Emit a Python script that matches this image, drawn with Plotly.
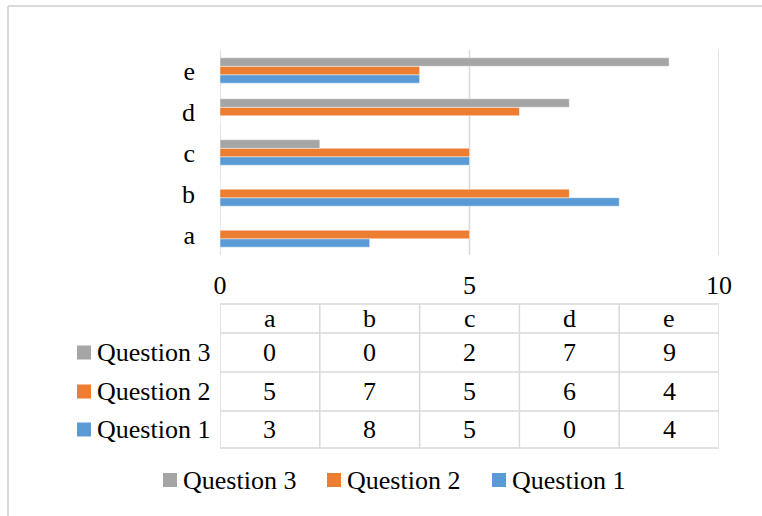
import plotly.graph_objects as go

categories = ["a", "b", "c", "d", "e"]
series_names = ["Question 1", "Question 2", "Question 3"]
q1 = [3, 8, 5, 0, 4]
q2 = [5, 7, 5, 6, 4]
q3 = [0, 0, 2, 7, 9]
colors = ["#5B9BD5", "#ED7D31", "#A5A5A5"]
x_ticks = [0, 5, 10]

FONT = "Liberation Serif"
W, H = 762, 516
ML, MR, MT, MB = 220, 43, 50, 261
PW = W - ML - MR
PH = H - MT - MB
GRID = "#D9D9D9"


def px_x(px):
    return (px - ML) / PW


def px_y(py):
    return (H - MB - py) / PH


def label(x, y, text, xref="paper", xanchor="center"):
    return dict(xref=xref, yref="paper", x=x, y=y, xanchor=xanchor, yanchor="middle",
                text=text, showarrow=False,
                font=dict(family=FONT, size=26, color="#000"))


values = [q1, q2, q3]
fig = go.Figure()
for name, vals, col in zip(series_names, values, colors):
    fig.add_trace(go.Bar(
        y=categories, x=vals, name=name, orientation="h",
        marker=dict(color=col, line=dict(color="rgba(255,255,255,0.45)", width=1)),
    ))

shapes = []
annotations = []

# vertical gridlines at every tick, including the range ends
for t in x_ticks:
    shapes.append(dict(type="line", xref="x", yref="paper", x0=t, x1=t, y0=0, y1=1,
                       layer="below", line=dict(color=GRID, width=1.5)))

# outer chart frame (top and left edges)
shapes.append(dict(type="line", xref="paper", yref="paper",
                   x0=px_x(8), x1=px_x(775), y0=px_y(6), y1=px_y(6),
                   line=dict(color=GRID, width=2)))
shapes.append(dict(type="line", xref="paper", yref="paper",
                   x0=px_x(8), x1=px_x(8), y0=px_y(6), y1=px_y(530),
                   line=dict(color=GRID, width=2)))

# data table beneath the axis
row_lines = [304, 333, 372, 411, 448]
row_centers = [318.5, 352.5, 391.5, 429.5]
table_left = -3.05
n = len(categories)
col_edges = [2 * i for i in range(n + 1)]

for i, yl in enumerate(row_lines):
    x0 = 0 if i == 0 else table_left
    shapes.append(dict(type="line", xref="x", yref="paper",
                       x0=x0, x1=10, y0=px_y(yl), y1=px_y(yl),
                       line=dict(color=GRID, width=1.5)))
for xe in col_edges:
    shapes.append(dict(type="line", xref="x", yref="paper",
                       x0=xe, x1=xe, y0=px_y(row_lines[0]), y1=px_y(row_lines[-1]),
                       line=dict(color=GRID, width=1.5)))
shapes.append(dict(type="line", xref="x", yref="paper",
                   x0=table_left, x1=table_left, y0=px_y(row_lines[1]), y1=px_y(row_lines[-1]),
                   line=dict(color=GRID, width=1.5)))

# header row
for j, cat in enumerate(categories):
    annotations.append(label(2 * j + 1, px_y(row_centers[0]), cat, xref="x"))

# body rows, top to bottom: Question 3, Question 2, Question 1
for r, k in enumerate([2, 1, 0]):
    cy = row_centers[r + 1]
    shapes.append(dict(type="rect", xref="paper", yref="paper",
                       x0=px_x(77), x1=px_x(91), y0=px_y(cy + 7), y1=px_y(cy - 7),
                       fillcolor=colors[k], line=dict(width=0)))
    annotations.append(label(px_x(95), px_y(cy), series_names[k], xanchor="left"))
    for j, v in enumerate(values[k]):
        annotations.append(label(2 * j + 1, px_y(cy), str(v), xref="x"))

# legend row under the table: Question 3, Question 2, Question 1
legend_keys = [(2, 163), (1, 327), (0, 492)]
for k, sx in legend_keys:
    shapes.append(dict(type="rect", xref="paper", yref="paper",
                       x0=px_x(sx), x1=px_x(sx + 14), y0=px_y(487), y1=px_y(473),
                       fillcolor=colors[k], line=dict(width=0)))
    annotations.append(label(px_x(sx + 18), px_y(480), series_names[k], xanchor="left"))

fig.update_layout(
    width=W, height=H,
    margin=dict(l=ML, r=MR, t=MT, b=MB),
    paper_bgcolor="white", plot_bgcolor="white",
    barmode="group", bargap=0.38, bargroupgap=0,
    font=dict(family=FONT, size=26, color="#000"),
    shapes=shapes, annotations=annotations,
    showlegend=False,
)
fig.update_xaxes(range=[0, 10], tickvals=x_ticks, showgrid=False,
                 zeroline=False, showline=False, ticks="",
                 ticklabelstandoff=12, fixedrange=True)
fig.update_yaxes(categoryorder="array", categoryarray=categories, showgrid=False,
                 showline=False, zeroline=False, ticks="", ticklabelstandoff=24,
                 fixedrange=True)

fig.write_html("out.html")
